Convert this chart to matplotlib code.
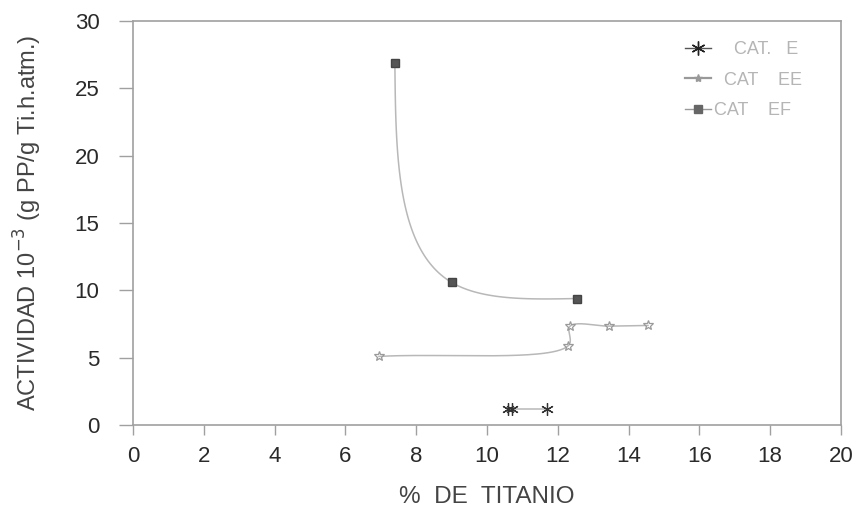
import numpy as np
import matplotlib
matplotlib.use("Agg")
import matplotlib.pyplot as plt
from matplotlib.lines import Line2D

plt.rcParams['font.family'] = ['Liberation Sans', 'DejaVu Sans']

# data
cat_e_x = [10.6, 10.7, 11.7]
cat_e_y = [1.2, 1.2, 1.2]
cat_ee_x = [6.95, 12.3, 12.35, 13.45, 14.55]
cat_ee_y = [5.1, 5.9, 7.35, 7.35, 7.4]
cat_ef_x = [7.4, 9.0, 12.55]
cat_ef_y = [26.9, 10.6, 9.4]

xlim = (0, 20)
ylim = (0, 30)
xticks = np.arange(0, 21, 2)
yticks = np.arange(0, 31, 5)

line_col = '#b8b8b8'
frame_col = '#a0a0a0'
text_col = '#2a2a2a'
aspect = 708 / 404.0   # axes width/height in pixels


def to_screen(xs, ys):
    px = (np.asarray(xs, float) - xlim[0]) / (xlim[1] - xlim[0]) * aspect
    py = (np.asarray(ys, float) - ylim[0]) / (ylim[1] - ylim[0])
    return np.column_stack([px, py])


def from_screen(C):
    return C[:, 0] / aspect * (xlim[1] - xlim[0]) + xlim[0], C[:, 1] * (ylim[1] - ylim[0]) + ylim[0]


def natural(xs, ys, n=60):
    # parametric natural cubic spline with chord-length knots
    P = to_screen(xs, ys)
    k = len(P)
    h = np.linalg.norm(np.diff(P, axis=0), axis=1) + 1e-9
    A = np.zeros((k, k))
    B = np.zeros((k, 2))
    A[0, 0] = A[-1, -1] = 1
    for i in range(1, k - 1):
        A[i, i - 1] = h[i - 1]
        A[i, i] = 2 * (h[i - 1] + h[i])
        A[i, i + 1] = h[i]
        B[i] = 6 * ((P[i + 1] - P[i]) / h[i] - (P[i] - P[i - 1]) / h[i - 1])
    M = np.linalg.solve(A, B)
    out = []
    for i in range(k - 1):
        hi = h[i]
        t = np.linspace(0, hi, n)[:, None]
        out.append(M[i] * (hi - t) ** 3 / (6 * hi) + M[i + 1] * t ** 3 / (6 * hi)
                   + (P[i] / hi - M[i] * hi / 6) * (hi - t)
                   + (P[i + 1] / hi - M[i + 1] * hi / 6) * t)
    return from_screen(np.vstack(out))


def catmull(xs, ys, n=60):
    # centripetal catmull-rom
    P = to_screen(xs, ys)
    P = np.vstack([2 * P[0] - P[1], P, 2 * P[-1] - P[-2]])
    out = []
    for i in range(1, len(P) - 2):
        p0, p1, p2, p3 = P[i - 1], P[i], P[i + 1], P[i + 2]
        t0 = 0.0
        t1 = t0 + np.linalg.norm(p1 - p0) ** 0.5 + 1e-9
        t2 = t1 + np.linalg.norm(p2 - p1) ** 0.5 + 1e-9
        t3 = t2 + np.linalg.norm(p3 - p2) ** 0.5 + 1e-9
        t = np.linspace(t1, t2, n)[:, None]
        a1 = (t1 - t) / (t1 - t0) * p0 + (t - t0) / (t1 - t0) * p1
        a2 = (t2 - t) / (t2 - t1) * p1 + (t - t1) / (t2 - t1) * p2
        a3 = (t3 - t) / (t3 - t2) * p2 + (t - t2) / (t3 - t2) * p3
        b1 = (t2 - t) / (t2 - t0) * a1 + (t - t0) / (t2 - t0) * a2
        b2 = (t3 - t) / (t3 - t1) * a2 + (t - t1) / (t3 - t1) * a3
        out.append((t2 - t) / (t2 - t1) * b1 + (t - t1) / (t2 - t1) * b2)
    return from_screen(np.vstack(out))


fig = plt.figure(figsize=(8.52, 5.11), dpi=100)
ax = fig.add_axes([0.156, 0.168, 0.831, 0.791])

asterisk = (6, 2, 0)

for fn, xs, ys in [(catmull, cat_e_x, cat_e_y), (catmull, cat_ee_x, cat_ee_y),
                   (natural, cat_ef_x, cat_ef_y)]:
    sx, sy = fn(xs, ys)
    ax.plot(sx, sy, color=line_col, lw=1.1, zorder=2)

ax.plot(cat_e_x, cat_e_y, ls='none', marker=asterisk, ms=9, mec='#333333', mew=0.9, zorder=3)
ax.plot(cat_ee_x, cat_ee_y, ls='none', marker='*', ms=7, mfc='none', mec='#9a9a9a', mew=0.9, zorder=3)
ax.plot(cat_ef_x, cat_ef_y, ls='none', marker='s', ms=6, mfc='#555555', mec='#444444', zorder=3)

ax.set_xlim(*xlim)
ax.set_ylim(*ylim)
ax.set_xticks(xticks)
ax.set_yticks(yticks)

for s in ax.spines.values():
    s.set_color(frame_col)
    s.set_linewidth(1.2)
ax.tick_params(axis='both', direction='out', width=1, color=frame_col,
               labelsize=16, labelcolor=text_col)
ax.tick_params(axis='y', length=10, pad=14)
ax.tick_params(axis='x', length=7, pad=8)

ax.set_xlabel('%  DE  TITANIO', fontsize=17.5, color='#444444', labelpad=14)
ax.set_ylabel('ACTIVIDAD 10$^{-3}$ (g PP/g Ti.h.atm.)', fontsize=17, color='#444444', labelpad=22)

handles = [
    Line2D([], [], color='#555555', lw=1, marker=asterisk, ms=10, mec='#222222'),
    Line2D([], [], color='#999999', lw=1.6, marker='*', ms=6, mec='#999999', mfc='#999999'),
    Line2D([], [], color='#999999', lw=1, marker='s', ms=6, mfc='#666666', mec='#666666'),
]
labels = ['    CAT.   E', '  CAT    EE', 'CAT    EF']
ax.legend(handles, labels, loc='upper left',
          bbox_to_anchor=((676 - 133) / 708.0, (425 - 32) / 404.0),
          borderpad=0, frameon=False, fontsize=13, labelcolor='#b5b5b5',
          handlelength=1.45, handletextpad=0.15, labelspacing=0.75)

fig.savefig('out.png', dpi=100)
